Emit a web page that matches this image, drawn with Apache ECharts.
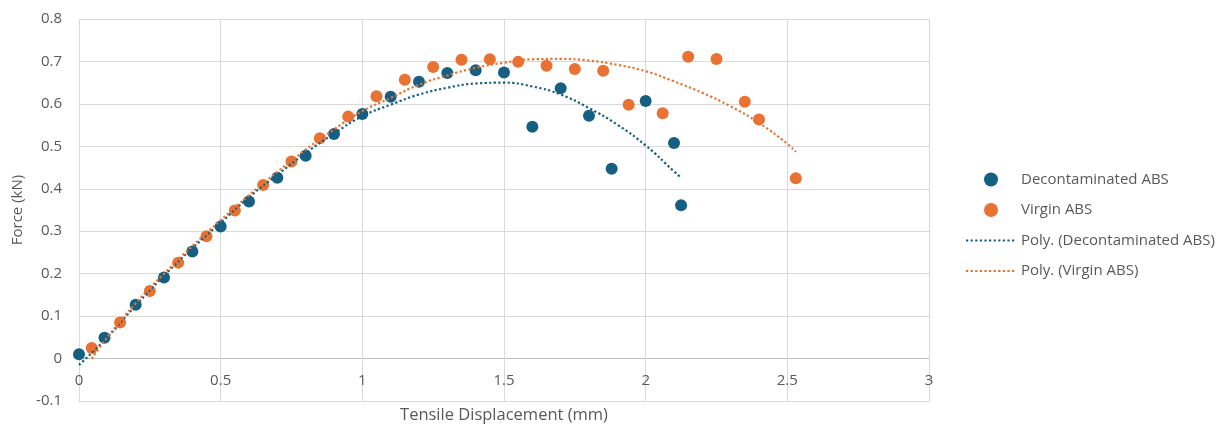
<!DOCTYPE html>
<html>
<head>
<meta charset="utf-8">
<script src="https://cdn.jsdelivr.net/npm/echarts@6/dist/echarts.min.js"></script>
<style>
  html, body { margin: 0; padding: 0; background: #fff; }
  #chart { width: 1229px; height: 424px; }
</style>
</head>
<body>
<div id="chart"></div>
<script>
// measured points [displacement mm, force kN]
const decontaminated = [
  [0.00, 0.010], [0.09, 0.049], [0.20, 0.127], [0.30, 0.191], [0.40, 0.252],
  [0.50, 0.311], [0.60, 0.370], [0.70, 0.426], [0.80, 0.478], [0.90, 0.529],
  [1.00, 0.576], [1.10, 0.617], [1.20, 0.652], [1.30, 0.673], [1.40, 0.679],
  [1.50, 0.674], [1.60, 0.546], [1.70, 0.637], [1.80, 0.572], [1.88, 0.447],
  [2.00, 0.607], [2.10, 0.508], [2.125, 0.361]
];
const virgin = [
  [0.045, 0.025], [0.145, 0.085], [0.25, 0.159], [0.35, 0.226], [0.45, 0.288],
  [0.55, 0.349], [0.65, 0.409], [0.75, 0.464], [0.85, 0.519], [0.95, 0.570],
  [1.05, 0.618], [1.15, 0.657], [1.25, 0.687], [1.35, 0.704], [1.45, 0.705],
  [1.55, 0.699], [1.65, 0.690], [1.75, 0.682], [1.85, 0.678], [1.94, 0.598],
  [2.06, 0.578], [2.15, 0.711], [2.25, 0.706], [2.35, 0.605], [2.40, 0.563],
  [2.53, 0.425]
];
// trendlines
const polyDecontaminated = [
  [0.00, -0.015], [0.10, 0.050], [0.20, 0.125], [0.30, 0.195], [0.40, 0.260],
  [0.50, 0.320], [0.60, 0.380], [0.70, 0.433], [0.80, 0.484], [0.90, 0.530],
  [1.00, 0.571], [1.10, 0.598], [1.20, 0.622], [1.30, 0.638], [1.40, 0.648],
  [1.50, 0.650], [1.60, 0.641], [1.70, 0.622], [1.80, 0.590], [1.90, 0.551],
  [2.00, 0.502], [2.10, 0.441], [2.12, 0.429]
];
const polyVirgin = [
  [0.045, 0.000], [0.10, 0.050], [0.20, 0.130], [0.30, 0.200], [0.40, 0.265],
  [0.50, 0.326], [0.60, 0.385], [0.70, 0.440], [0.80, 0.492], [0.90, 0.540],
  [1.00, 0.583], [1.10, 0.614], [1.20, 0.645], [1.30, 0.667], [1.40, 0.685],
  [1.50, 0.697], [1.60, 0.705], [1.70, 0.706], [1.80, 0.702], [1.90, 0.692],
  [2.00, 0.677], [2.10, 0.653], [2.20, 0.626], [2.30, 0.594], [2.40, 0.555],
  [2.50, 0.506], [2.53, 0.487]
];

const blue = '#156082';
const orange = '#E97132';
const font = '"Open Sans", sans-serif';
const grey = '#595959';

const chart = echarts.init(document.getElementById('chart'));
chart.setOption({
  animation: false,
  grid: { left: 79, right: 300, top: 19, bottom: 23, containLabel: false, outerBoundsMode: 'none' },
  legend: {
    orient: 'vertical',
    left: 965,
    top: 172,
    padding: 0,
    itemWidth: 50,
    itemHeight: 14,
    itemGap: 15.5,
    textStyle: { color: grey, fontSize: 15, fontFamily: font },
    data: [
      'Decontaminated ABS',
      'Virgin ABS',
      { name: 'Poly. (Decontaminated ABS)', itemStyle: { opacity: 0 } },
      { name: 'Poly. (Virgin ABS)', itemStyle: { opacity: 0 } }
    ]
  },
  xAxis: {
    type: 'value',
    min: 0, max: 3, interval: 0.5,
    name: 'Tensile Displacement (mm)',
    nameLocation: 'middle',
    nameGap: 4,
    nameTextStyle: { color: grey, fontSize: 16.5, fontFamily: font },
    axisLine: { onZero: false, lineStyle: { color: '#d9d9d9' } },
    axisTick: { show: false },
    // labels sit just under the zero line, as in the source chart
    axisLabel: { color: grey, fontSize: 15, fontFamily: font, margin: -28 },
    splitLine: { show: true, lineStyle: { color: '#d9d9d9' } }
  },
  yAxis: {
    type: 'value',
    min: -0.1, max: 0.8, interval: 0.1,
    name: 'Force (kN)',
    nameLocation: 'middle',
    nameGap: 52,
    nameTextStyle: { color: grey, fontSize: 15, fontFamily: font },
    axisLine: { show: false, onZero: false },
    axisTick: { show: false },
    axisLabel: {
      color: grey, fontSize: 15, fontFamily: font, margin: 17,
      formatter: v => String(Math.round(v * 10) / 10)
    },
    splitLine: {
      show: true,
      lineStyle: { color: ['#d9d9d9', '#bfbfbf', '#d9d9d9', '#d9d9d9', '#d9d9d9', '#d9d9d9', '#d9d9d9', '#d9d9d9', '#d9d9d9', '#d9d9d9'] }
    }
  },
  series: [
    {
      name: 'Decontaminated ABS',
      type: 'scatter',
      symbolSize: 12,
      itemStyle: { color: blue, opacity: 1 },
      data: decontaminated,
      z: 3
    },
    {
      name: 'Virgin ABS',
      type: 'scatter',
      symbolSize: 12,
      itemStyle: { color: orange, opacity: 1 },
      data: virgin,
      z: 3
    },
    {
      name: 'Poly. (Decontaminated ABS)',
      type: 'line',
      smooth: true,
      symbol: 'none',
      itemStyle: { color: blue },
      lineStyle: { color: blue, width: 2.2, type: [2.2, 2.4] },
      data: polyDecontaminated,
      z: 4
    },
    {
      name: 'Poly. (Virgin ABS)',
      type: 'line',
      smooth: true,
      symbol: 'none',
      itemStyle: { color: orange },
      lineStyle: { color: orange, width: 2.2, type: [2.2, 2.4] },
      data: polyVirgin,
      z: 4
    }
  ]
});
</script>
</body>
</html>
